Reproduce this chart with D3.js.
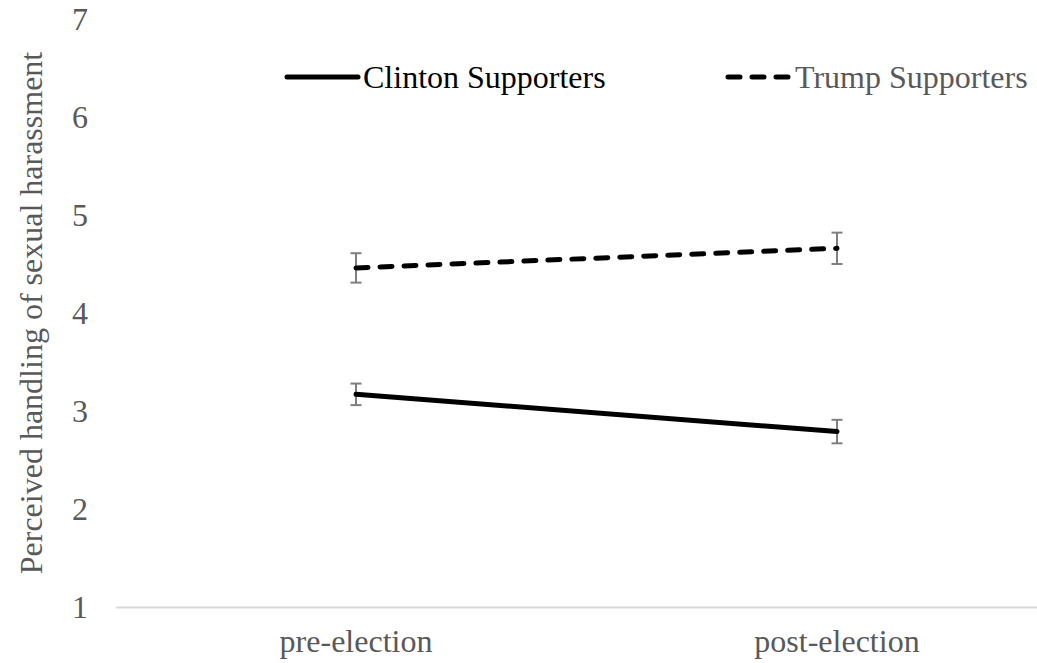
<!DOCTYPE html>
<html>
<head>
<meta charset="utf-8">
<script src="https://cdn.jsdelivr.net/npm/d3@7"></script>
<style>
  html, body { margin: 0; padding: 0; background: #fff; }
  svg { display: block; }
  svg text { font-family: 'Liberation Serif', Tinos, 'Times New Roman', Times, 'DejaVu Serif', serif !important; }
</style>
</head>
<body>
<svg id="chart" width="1037" height="663"></svg>
<script>
// Survey periods and series means with their error margins
const periods = ["pre-election", "post-election"];
const clintonMeans = [3.17, 2.79];
const clintonErrors = [0.11, 0.12];
const trumpMeans = [4.46, 4.66];
const trumpErrors = [0.15, 0.16];
const yTicks = [1, 2, 3, 4, 5, 6, 7];
const seriesNames = ["Clinton Supporters", "Trump Supporters"];

const series = [
  { name: seriesNames[0], means: clintonMeans, errors: clintonErrors, dash: null, textColor: "#000" },
  { name: seriesNames[1], means: trumpMeans, errors: trumpErrors, dash: "12,12", textColor: "#595959" }
];

const FONT = "'Liberation Serif', Tinos, 'Times New Roman', Times, 'DejaVu Serif', serif";
const svg = d3.select("#chart").attr("font-family", FONT);

const x = d3.scaleBand().domain(periods).range([115.5, 1077.5]);
const y = d3.scaleLinear().domain([1, 7]).range([607, 19]);
const cx = d => x(d) + x.bandwidth() / 2;

// Category axis along the bottom
const xAxis = svg.append("g")
  .attr("transform", `translate(0,${y(1)})`)
  .call(d3.axisBottom(x).tickSize(0).tickSizeOuter(0).tickPadding(22));
xAxis.attr("font-family", FONT).attr("font-size", 32);
xAxis.select(".domain").attr("stroke", "#d9d9d9").attr("stroke-width", 2);
xAxis.selectAll(".tick text").attr("fill", "#595959");

// Value axis labels
const yAxis = svg.append("g")
  .attr("transform", "translate(88,0)")
  .call(d3.axisLeft(y).tickValues(yTicks).tickFormat(d3.format("d")).tickSize(0).tickPadding(0));
yAxis.attr("font-family", FONT).attr("font-size", 32);
yAxis.select(".domain").remove();
yAxis.selectAll(".tick text")
  .attr("fill", "#595959")
  .attr("dy", "0.34em");

// Axis title
svg.append("text")
  .attr("transform", `translate(42,${(y(1) + y(7)) / 2}) rotate(-90)`)
  .attr("text-anchor", "middle")
  .attr("fill", "#595959")
  .attr("font-size", 32)
  .text("Perceived handling of sexual harassment");

// Error bars
const capHalf = 5.5;
series.forEach(s => {
  const g = svg.append("g").attr("stroke", "#7f7f7f").attr("stroke-width", 2);
  periods.forEach((p, i) => {
    const px = cx(p);
    const top = y(s.means[i] + s.errors[i]);
    const bot = y(s.means[i] - s.errors[i]);
    g.append("line").attr("x1", px).attr("x2", px).attr("y1", top).attr("y2", bot);
    g.append("line").attr("x1", px - capHalf).attr("x2", px + capHalf).attr("y1", top).attr("y2", top);
    g.append("line").attr("x1", px - capHalf).attr("x2", px + capHalf).attr("y1", bot).attr("y2", bot);
  });
});

// Series lines
const line = d3.line().x(d => cx(d.p)).y(d => y(d.v));
series.forEach(s => {
  svg.append("path")
    .datum(periods.map((p, i) => ({ p, v: s.means[i] })))
    .attr("d", line)
    .attr("fill", "none")
    .attr("stroke", "#000")
    .attr("stroke-width", 5)
    .attr("stroke-linecap", "round")
    .attr("stroke-dasharray", s.dash);
});

// Legend
const legendY = 77;
const legendItems = [
  { s: series[0], x0: 287, x1: 358, tx: 363 },
  { s: series[1], x0: 728, x1: 788, tx: 795 }
];
legendItems.forEach(item => {
  svg.append("line")
    .attr("x1", item.x0).attr("x2", item.x1)
    .attr("y1", legendY).attr("y2", legendY)
    .attr("stroke", "#000")
    .attr("stroke-width", 5)
    .attr("stroke-linecap", "round")
    .attr("stroke-dasharray", item.s.dash);
  svg.append("text")
    .attr("x", item.tx)
    .attr("y", legendY + 11)
    .attr("fill", item.s.textColor)
    .attr("font-size", 32)
    .text(item.s.name);
});
</script>
</body>
</html>
